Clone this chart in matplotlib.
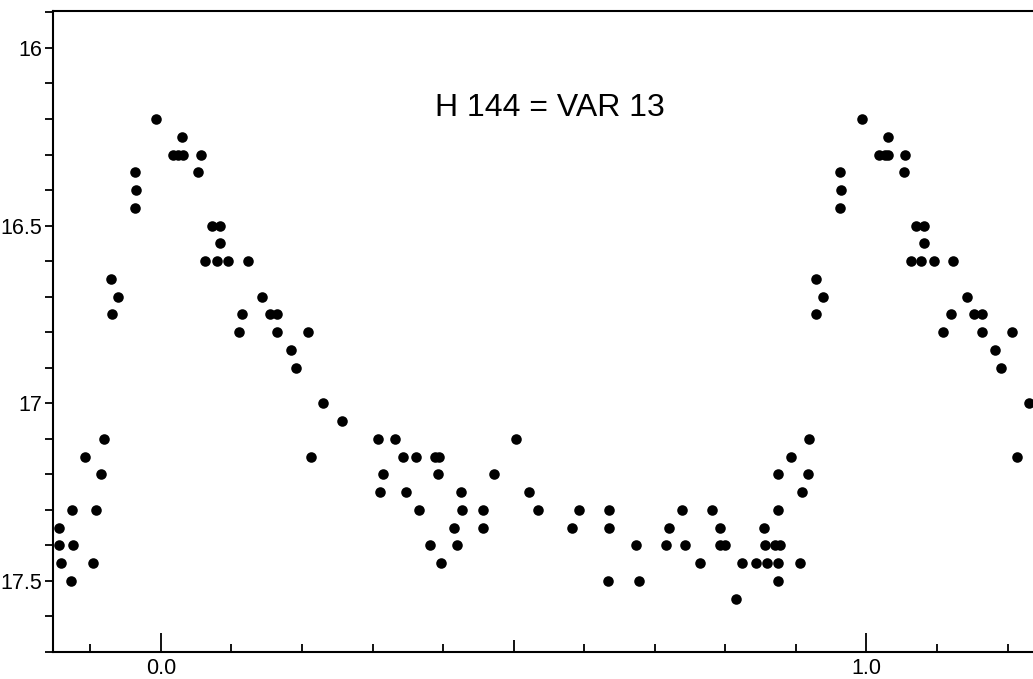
from __future__ import annotations

import matplotlib

matplotlib.use("Agg")
import matplotlib.pyplot as plt
from matplotlib.ticker import FixedLocator, MultipleLocator


OUT_PNG = "out.png"

TITLE = "H 144 = VAR 13"

# phase and V magnitude of each plotted point
# (points near both ends of the cycle are drawn twice, as in the original)
PHASE = [
    -0.145, -0.144, -0.141, -0.126, -0.125, -0.127, -0.108, -0.097, -0.092, -0.085, -0.081,
    -0.071, -0.070, -0.061, -0.037, -0.035, -0.037, -0.007,
    0.017, 0.024, 0.031, 0.030, 0.057, 0.053,
    0.072, 0.084, 0.084, 0.063, 0.079, 0.095, 0.124,
    0.143, 0.115, 0.154, 0.165, 0.111, 0.165, 0.209, 0.184, 0.191,
    0.230, 0.256, 0.213,
    0.307, 0.332, 0.315, 0.311, 0.343, 0.362, 0.388, 0.394, 0.392, 0.347,
    0.366, 0.381, 0.397, 0.415, 0.419, 0.425, 0.427, 0.457, 0.457, 0.472,
    0.503, 0.521, 0.534, 0.582, 0.593, 0.635, 0.635, 0.633, 0.677, 0.674,
    0.716, 0.720, 0.739, 0.743, 0.764, 0.781, 0.792, 0.792, 0.800, 0.815, 0.824,
    0.844, 0.859, 0.875, 0.855, 0.856, 0.870, 0.877, 0.875, 0.875, 0.874,
    0.893, 0.917, 0.909, 0.919, 0.906,
    0.929, 0.939, 0.929, 0.962, 0.964, 0.962, 0.993,
    1.030, 1.018, 1.026, 1.031, 1.055, 1.053,
    1.070, 1.082, 1.081, 1.063, 1.077, 1.095, 1.122,
    1.142, 1.120, 1.153, 1.164, 1.109, 1.164, 1.206, 1.182, 1.191,
    1.230, 1.213,
]
MAG = [
    17.35, 17.40, 17.45, 17.30, 17.40, 17.50, 17.15, 17.45, 17.30, 17.20, 17.10,
    16.65, 16.75, 16.70, 16.35, 16.40, 16.45, 16.20,
    16.30, 16.30, 16.30, 16.25, 16.30, 16.35,
    16.50, 16.50, 16.55, 16.60, 16.60, 16.60, 16.60,
    16.70, 16.75, 16.75, 16.75, 16.80, 16.80, 16.80, 16.85, 16.90,
    17.00, 17.05, 17.15,
    17.10, 17.10, 17.20, 17.25, 17.15, 17.15, 17.15, 17.15, 17.20, 17.25,
    17.30, 17.40, 17.45, 17.35, 17.40, 17.25, 17.30, 17.30, 17.35, 17.20,
    17.10, 17.25, 17.30, 17.35, 17.30, 17.30, 17.35, 17.50, 17.50, 17.40,
    17.40, 17.35, 17.30, 17.40, 17.45, 17.30, 17.35, 17.40, 17.40, 17.55, 17.45,
    17.45, 17.45, 17.45, 17.35, 17.40, 17.40, 17.40, 17.50, 17.30, 17.20,
    17.15, 17.20, 17.25, 17.10, 17.45,
    16.65, 16.70, 16.75, 16.35, 16.40, 16.45, 16.20,
    16.25, 16.30, 16.30, 16.30, 16.30, 16.35,
    16.50, 16.50, 16.55, 16.60, 16.60, 16.60, 16.60,
    16.70, 16.75, 16.75, 16.75, 16.80, 16.80, 16.80, 16.85, 16.90,
    17.00, 17.15,
]

X_LIMITS = (-0.153, 1.236)
Y_LIMITS = (17.70, 15.896)
X_LABEL_TICKS = [0.0, 0.5, 1.0]
X_LABELS = ["0.0", "", "1.0"]
Y_TICKS = [16.0, 16.5, 17.0, 17.5]
Y_LABELS = ["16", "16.5", "17", "17.5"]


def style_axes(ax: plt.Axes) -> None:
    ax.set_xlim(*X_LIMITS)
    ax.set_ylim(*Y_LIMITS)

    for side in ("left", "top", "bottom"):
        ax.spines[side].set_linewidth(1.5)
    ax.spines["right"].set_visible(False)

    # x: ticks point into the frame, long ones at 0.0 and 1.0
    ax.xaxis.set_major_locator(FixedLocator(X_LABEL_TICKS))
    ax.xaxis.set_minor_locator(MultipleLocator(0.1))
    ax.set_xticklabels(X_LABELS)
    ax.tick_params(axis="x", which="major", direction="in", length=14, width=1.3,
                   pad=4, labelsize=15.5)
    ax.tick_params(axis="x", which="minor", direction="in", length=6, width=1.3)
    ax.xaxis.get_major_ticks()[1].tick1line.set_markersize(9)

    # y: outward ticks, every 0.1 mag
    ax.yaxis.set_major_locator(FixedLocator(Y_TICKS))
    ax.yaxis.set_minor_locator(MultipleLocator(0.1))
    ax.set_yticklabels(Y_LABELS)
    ax.tick_params(axis="y", which="major", direction="out", length=6, width=1.3,
                   pad=1.5, labelsize=15.5)
    ax.tick_params(axis="y", which="minor", direction="out", length=6, width=1.3)


def main() -> None:
    plt.rcParams["font.family"] = ["Liberation Sans", "DejaVu Sans"]

    fig = plt.figure(figsize=(10.33, 6.79), dpi=100)
    ax = fig.add_axes([0.0513, 0.0398, 0.9487, 0.944])

    ax.plot(PHASE, MAG, "o", color="black", markersize=7.6, markeredgewidth=0,
            clip_on=False)
    style_axes(ax)

    # title placed in data space, where it sits in the original
    ax.text(0.551, 16.17, TITLE, ha="center", va="center", fontsize=23,
            color="black")

    fig.savefig(OUT_PNG, dpi=100)
    plt.close(fig)


if __name__ == "__main__":
    main()
